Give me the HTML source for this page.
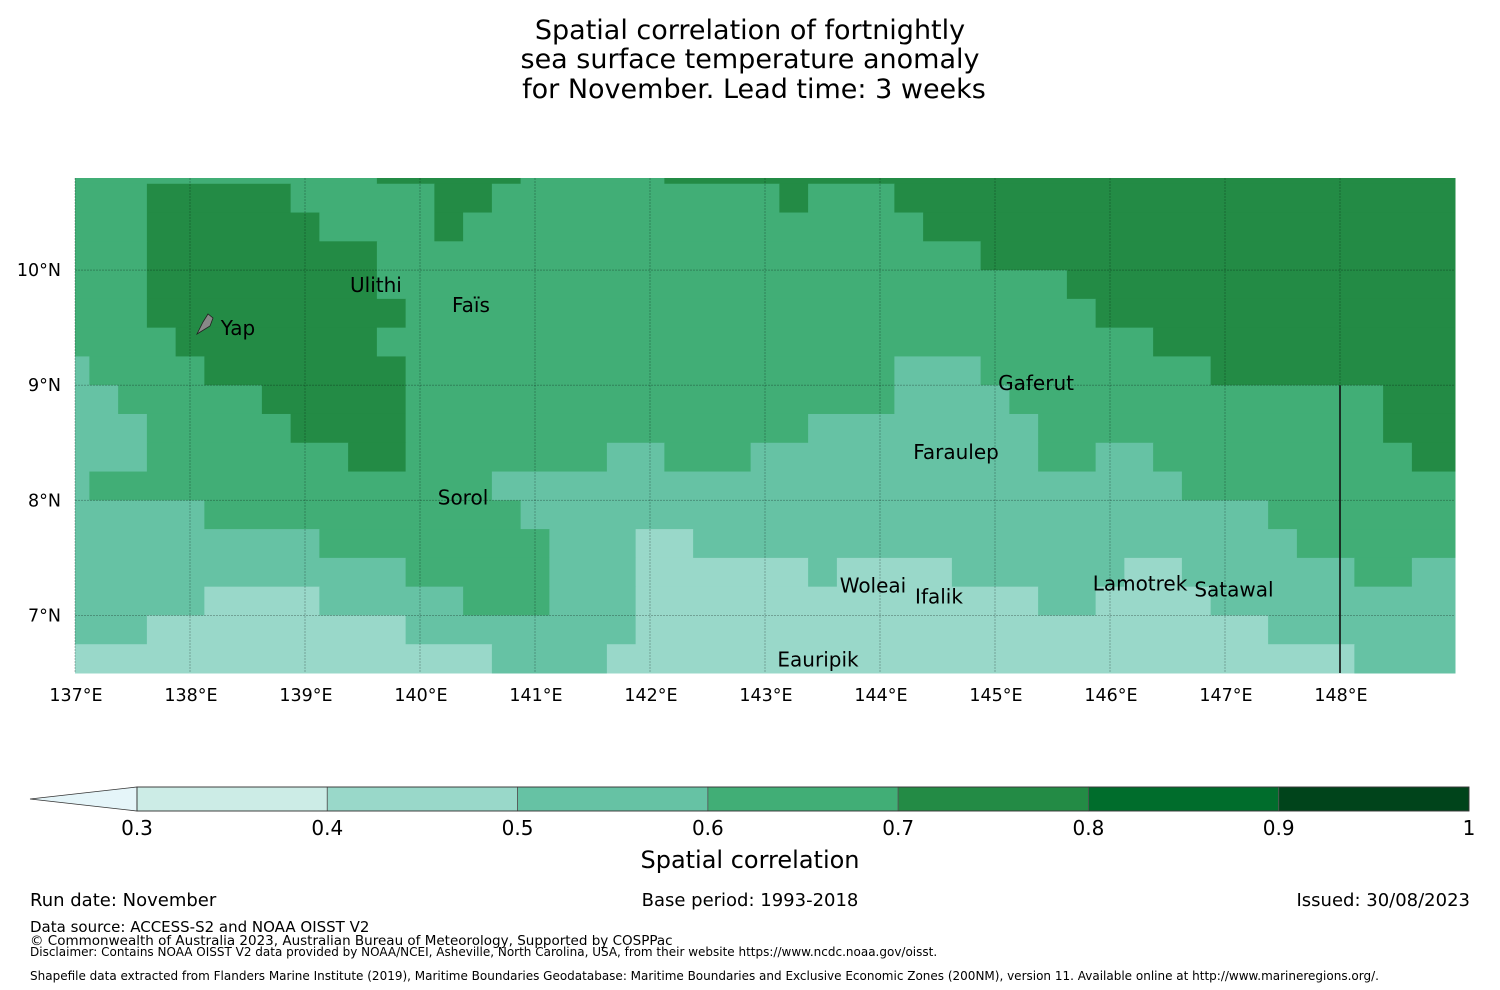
<!DOCTYPE html>
<html><head><meta charset="utf-8"><style>
html,body{margin:0;padding:0;background:#fff;}
svg{display:block;font-family:"DejaVu Sans","Liberation Sans",sans-serif;}
</style></head><body>
<svg id="chart" width="1500" height="990" viewBox="0 0 1500 990" xmlns="http://www.w3.org/2000/svg">
<g font-size="27" text-anchor="middle" fill="#000">
<text x="750" y="39">Spatial correlation of fortnightly</text>
<text x="750" y="68">sea surface temperature anomaly</text>
<text x="754" y="98">for November. Lead time: 3 weeks</text>
</g>
<g id="map"></g>
<g id="grid"></g>
<g id="labels"></g>
<g id="axes"></g>
<g id="cbar"></g>
<text x="750" y="868" font-size="24" text-anchor="middle">Spatial correlation</text>
<g font-size="18">
<text x="30" y="906">Run date: November</text>
<text x="750" y="906" text-anchor="middle">Base period: 1993-2018</text>
<text x="1470" y="906" text-anchor="end">Issued: 30/08/2023</text>
<text x="30" y="932" font-size="15">Data source: ACCESS-S2 and NOAA OISST V2</text>
<text x="30" y="945" font-size="13.5">© Commonwealth of Australia 2023, Australian Bureau of Meteorology, Supported by COSPPac</text>
<text x="30" y="956" font-size="12">Disclaimer: Contains NOAA OISST V2 data provided by NOAA/NCEI, Asheville, North Carolina, USA, from their website https://www.ncdc.noaa.gov/oisst.</text>
<text x="30" y="980" font-size="12">Shapefile data extracted from Flanders Marine Institute (2019), Maritime Boundaries Geodatabase: Maritime Boundaries and Exclusive Economic Zones (200NM), version 11. Available online at http://www.marineregions.org/.</text>
</g>
</svg>
<script>
// ---- data ----
const lonMin = 137, lonMax = 149, latMin = 6.5, latMax = 10.8;
const lonTicks = [137,138,139,140,141,142,143,144,145,146,147,148];
const latTicks = [7,8,9,10];
const cellLons = Array.from({length:49},(_,k)=>137+0.25*k);
const rowLatTops = [10.8,10.75,10.5,10.25,10,9.75,9.5,9.25,9,8.75,8.5,8.25,8,7.75,7.5,7.25,7,6.75];
// run-length encoded correlation values per row (north to south): [value, count]
const rows = [
 [[0.65,11],[0.75,5],[0.65,5],[0.75,28]],
 [[0.65,3],[0.75,5],[0.65,5],[0.75,2],[0.65,10],[0.75,1],[0.65,3],[0.75,20]],
 [[0.65,3],[0.75,6],[0.65,4],[0.75,1],[0.65,16],[0.75,19]],
 [[0.65,3],[0.75,8],[0.65,21],[0.75,17]],
 [[0.65,3],[0.75,8],[0.65,24],[0.75,14]],
 [[0.65,3],[0.75,9],[0.65,24],[0.75,13]],
 [[0.65,4],[0.75,7],[0.65,27],[0.75,11]],
 [[0.55,1],[0.65,4],[0.75,7],[0.65,17],[0.55,3],[0.65,8],[0.75,9]],
 [[0.55,2],[0.65,5],[0.75,5],[0.65,17],[0.55,4],[0.65,13],[0.75,3]],
 [[0.55,3],[0.65,5],[0.75,4],[0.65,14],[0.55,8],[0.65,12],[0.75,3]],
 [[0.55,3],[0.65,7],[0.75,2],[0.65,7],[0.55,2],[0.65,3],[0.55,10],[0.65,2],[0.55,2],[0.65,9],[0.75,2]],
 [[0.55,1],[0.65,14],[0.55,24],[0.65,10]],
 [[0.55,5],[0.65,11],[0.55,26],[0.65,7]],
 [[0.55,9],[0.65,8],[0.55,3],[0.45,2],[0.55,21],[0.65,6]],
 [[0.55,12],[0.65,5],[0.55,3],[0.45,6],[0.55,1],[0.45,4],[0.55,6],[0.45,2],[0.55,6],[0.65,2],[0.55,2]],
 [[0.55,5],[0.45,4],[0.55,5],[0.65,3],[0.55,3],[0.45,14],[0.55,2],[0.45,4],[0.55,9]],
 [[0.55,3],[0.45,9],[0.55,8],[0.45,22],[0.55,7]],
 [[0.45,15],[0.55,4],[0.45,26],[0.55,4]]
];
const levels = [0.3,0.4,0.5,0.6,0.7,0.8,0.9,1.0];
const levelColors = ["#ccece6","#99d8c9","#66c2a4","#41ae76","#238b45","#006d2c","#00441b"];
const cbarTickLabels = ["0.3","0.4","0.5","0.6","0.7","0.8","0.9","1"];
const islandNames = ["Ulithi","Faïs","Yap","Gaferut","Faraulep","Sorol","Woleai","Ifalik","Lamotrek","Satawal","Eauripik"];
const islandLons = [139.617,140.443,138.417,145.357,144.661,140.374,143.939,144.513,146.261,147.078,143.461];
const islandLats = [9.809,9.635,9.435,8.957,8.357,7.965,7.2,7.104,7.217,7.165,6.557];
// ---- axes ----
const X0=75,X1=1455,Y0=178,Y1=673;
const xs = lon => X0+(lon-lonMin)/(lonMax-lonMin)*(X1-X0);
const ys = lat => Y0+(latMax-lat)/(latMax-latMin)*(Y1-Y0);
const NS="http://www.w3.org/2000/svg";
function mk(tag,attrs,parent){const e=document.createElementNS(NS,tag);for(const k in attrs)e.setAttribute(k,attrs[k]);parent.appendChild(e);return e;}
function colorFor(v){for(let i=0;i<levelColors.length;i++){if(v>=levels[i]&&v<levels[i+1])return levelColors[i];}return v<levels[0]?"#e5f5f9":levelColors[levelColors.length-1];}
const map=document.getElementById('map');
rows.forEach((runs,r)=>{
  const top=ys(rowLatTops[r]);
  const bot=ys(r+1<rowLatTops.length?rowLatTops[r+1]:latMin);
  let k=0;
  runs.forEach(([v,n])=>{
    const x1=xs(Math.max(lonMin,cellLons[k]-0.125));
    const x2=xs(Math.min(lonMax,cellLons[k+n-1]+0.125));
    const rc=mk('rect',{x:x1,y:top,width:x2-x1+0.5,height:bot-top+0.5,fill:colorFor(v)},map);
    
    
    k+=n;
  });
});
const grid=document.getElementById('grid');
lonTicks.forEach(l=>{const ln=mk('line',{x1:xs(l),x2:xs(l),y1:Y0,y2:Y1,stroke:"#000","stroke-opacity":0.25,"stroke-width":1,"stroke-dasharray":"2,1"},grid);

});
latTicks.forEach(l=>{const ln=mk('line',{x1:X0,x2:X1,y1:ys(l),y2:ys(l),stroke:"#000","stroke-opacity":0.25,"stroke-width":1,"stroke-dasharray":"2,1"},grid);

});
const eez=mk('line',{x1:xs(148),x2:xs(148),y1:ys(9),y2:Y1,stroke:"#111","stroke-width":1.6},grid);


const labs=document.getElementById('labels');
islandNames.forEach((nm,i)=>{
  const x=xs(islandLons[i]),y=ys(islandLats[i]);
  const t=mk('text',{x:x,y:y,"font-size":20,"text-anchor":"middle",fill:"#000"},labs);
  t.textContent=nm;
  
  
});
mk('path',{d:"M197,334 L203,322 L208,314 L213,318 L210,326 Z",fill:"#888",stroke:"#222","stroke-width":0.8},labs);
const axes=document.getElementById('axes');
lonTicks.forEach(l=>{const t=mk('text',{x:xs(l)+1,y:701,"font-size":17.5,"text-anchor":"middle"},axes);t.textContent=l+"°E";

});
latTicks.forEach(l=>{const t=mk('text',{x:61,y:ys(l)+6,"font-size":17.5,"text-anchor":"end"},axes);t.textContent=l+"°N";

});
// colorbar
const cb=document.getElementById('cbar');
const CB0=137,CB1=1469,CBY=787,CBH=24;
const cx=v=>CB0+(v-levels[0])/(levels[levels.length-1]-levels[0])*(CB1-CB0);
mk('path',{d:`M30,${CBY+CBH/2} L${CB0},${CBY} L${CB0},${CBY+CBH} Z`,fill:"#e5f5f9",stroke:"#333","stroke-width":0.8},cb);
levelColors.forEach((c,i)=>{const r=mk('rect',{x:cx(levels[i]),y:CBY,width:cx(levels[i+1])-cx(levels[i]),height:CBH,fill:c,stroke:"#555","stroke-width":0.8},cb);

});
mk('rect',{x:CB0,y:CBY,width:CB1-CB0,height:CBH,fill:"none",stroke:"#333","stroke-width":0.8},cb);
cbarTickLabels.forEach((s,i)=>{const t=mk('text',{x:cx(levels[i]),y:835,"font-size":20,"text-anchor":"middle"},cb);t.textContent=s;

});
</script>
</body></html>
